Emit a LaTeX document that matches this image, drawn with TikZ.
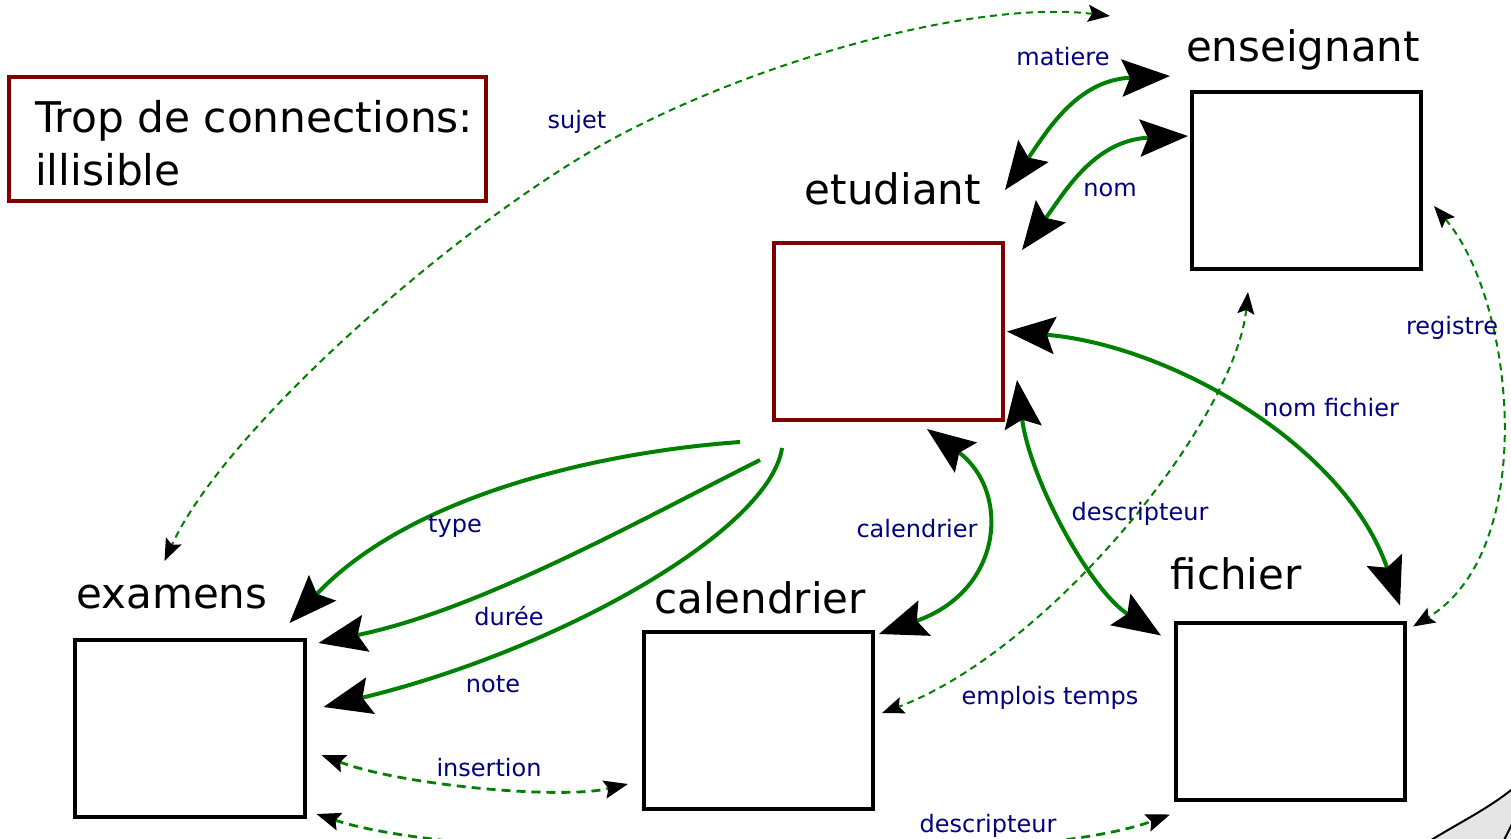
\documentclass[tikz,border=0pt]{standalone}
\usepackage{fontspec}
\setmainfont{DejaVu Sans}
\usetikzlibrary{arrows.meta,calc}
\definecolor{grn}{RGB}{0,128,0}
\definecolor{navylbl}{RGB}{0,0,128}
\definecolor{dkred}{RGB}{128,0,0}
\begin{document}
\begin{tikzpicture}[x=1bp,y=-1bp,
  box/.style={draw=black, line width=4bp, minimum width=229bp, minimum height=177bp, inner sep=0pt},
  redbox/.style={box, draw=dkred},
  title/.style={font=\fontsize{42bp}{50bp}\selectfont, anchor=base, inner sep=0pt},
  lbl/.style={font=\fontsize{24bp}{28bp}\selectfont, text=navylbl, anchor=base, inner sep=0pt},
  strong/.style={draw=grn, line width=4bp, arrows={Stealth[length=48bp,width=37bp,inset=8bp,color=black]-Stealth[length=48bp,width=37bp,inset=8bp,color=black]}},
  strongone/.style={draw=grn, line width=4bp, arrows={-Stealth[length=48bp,width=37bp,inset=8bp,color=black]}},
  thindash/.style={draw=grn, line width=2bp, dash pattern=on 7bp off 5bp, arrows={Stealth[length=22bp,width=17bp,inset=4bp,color=black]-Stealth[length=22bp,width=17bp,inset=4bp,color=black]}},
  thickdash/.style={draw=grn, line width=2.8bp, dash pattern=on 9bp off 6bp, arrows={Stealth[length=24bp,width=18bp,inset=4bp,color=black]-Stealth[length=24bp,width=18bp,inset=4bp,color=black]}}
]
\clip (0,0) rectangle (1511,838);
\fill[white] (0,0) rectangle (1511,838);

% boxes
\node[redbox] (etu) at (888.5,331.5) {};
\node[box] (ens) at (1306.5,180.5) {};
\node[box] (exa) at (190,728.5) {};
\node[box] (cal) at (758.5,720.5) {};
\node[box] (fic) at (1290.5,711) {};

% titles
\node[title] (etuT) at (893,204) {etudiant};
\node[title] (ensT) at (1303,61) {enseignant};
\node[title] (exaT) at (172,608) {examens};
\node[title] (calT) at (760,613) {calendrier};
\node[title] (ficT) at (1236,589) {fichier};

% note
\node[draw=dkred, line width=3.5bp, minimum width=477bp, minimum height=124bp, inner sep=0pt] (note) at (247.5,139) {};
\node[anchor=north west, inner sep=0pt, align=left, font=\fontsize{42.3bp}{53bp}\selectfont] (notetxt) at (35,100) {Trop de connections:\\illisible};

% solid connectors
\draw[strong] ($(ens.north west)+(-20,-14)$) .. controls (1075,80) and (1045,135) .. ($(etu.north east)+(0,-51)$);
\draw[strong] ($(ens.north west)+(-2,46)$) .. controls (1093,140) and (1063,195) .. ($(etu.north east)+(17,9)$);
\draw[strong] ($(etu.east)+(2,0)$) .. controls (1170,345) and (1345,445) .. ($(fic.north east)+(-7,-15)$);
\draw[strong] ($(etu.east)+(12,48.5)$) .. controls (1030,480) and (1090,590) .. ($(fic.north west)+(-13,15)$);
\draw[strong] ($(etu.south)+(38.5,7)$) .. controls (1010,490) and (1005,590) .. ($(cal.north east)+(4,4)$);
\draw[strongone] ($(etu.south west)+(-32,20)$) .. controls (600,452) and (410,495) .. ($(exa.north east)+(-17,-15)$);
\draw[strongone] ($(etu.south west)+(-12,38)$) .. controls (640,520) and (480,610) .. ($(exa.north east)+(12,5)$);
\draw[strongone] ($(etu.south west)+(10,26)$) .. controls (770,530) and (560,650) .. ($(exa.east)+(17,-21.5)$);

% dashed connectors
\draw[thindash] ($(ens.north west)+(-80,-74)$) .. controls (980,0) and (770,56) .. (620,135)
   .. controls (470,214) and (227,425) .. ($(exa.north west)+(91,-77)$);
\draw[thindash] ($(ens.east)+(11,25.5)$) .. controls (1515,300) and (1540,550) .. ($(fic.north east)+(6,6)$);
\draw[thindash] ($(ens.south)+(-58.5,21)$) .. controls (1235,420) and (1050,650) .. ($(cal.east)+(7,-7.5)$);
\draw[thickdash] ($(exa.east)+(15,26.5)$) .. controls (400,785) and (560,800) .. ($(cal.west)+(-14,63.5)$);
\draw[thickdash] ($(exa.south east)+(10,-5)$) .. controls (470,865) and (1020,870) .. ($(fic.south west)+(-4,13)$);

% labels
\node[lbl] (lmat) at (1063,65) {matiere};
\node[lbl] (lnom) at (1110,196) {nom};
\node[lbl] (lsuj) at (577,128) {sujet};
\node[lbl] (lreg) at (1452,334) {registre};
\node[lbl] (lnf) at (1331,416) {nom fichier};
\node[lbl] (ldes) at (1140,520) {descripteur};
\node[lbl] (lcal) at (917,537) {calendrier};
\node[lbl] (ltyp) at (455,532) {type};
\node[lbl] (ldur) at (509,625) {durée};
\node[lbl] (lnot) at (493,692) {note};
\node[lbl] (lemp) at (1050,704) {emplois temps};
\node[lbl] (lins) at (489,776) {insertion};
\node[lbl] (ldes2) at (988,832) {descripteur};

% page curl corner
\filldraw[fill=black!10, draw=black, line width=2bp] (1428,842) .. controls (1460,822) and (1490,808) .. (1516,786) -- (1516,842) -- cycle;
\draw[black, line width=2bp] (1503,842) -- (1513,822);
\end{tikzpicture}
\end{document}
